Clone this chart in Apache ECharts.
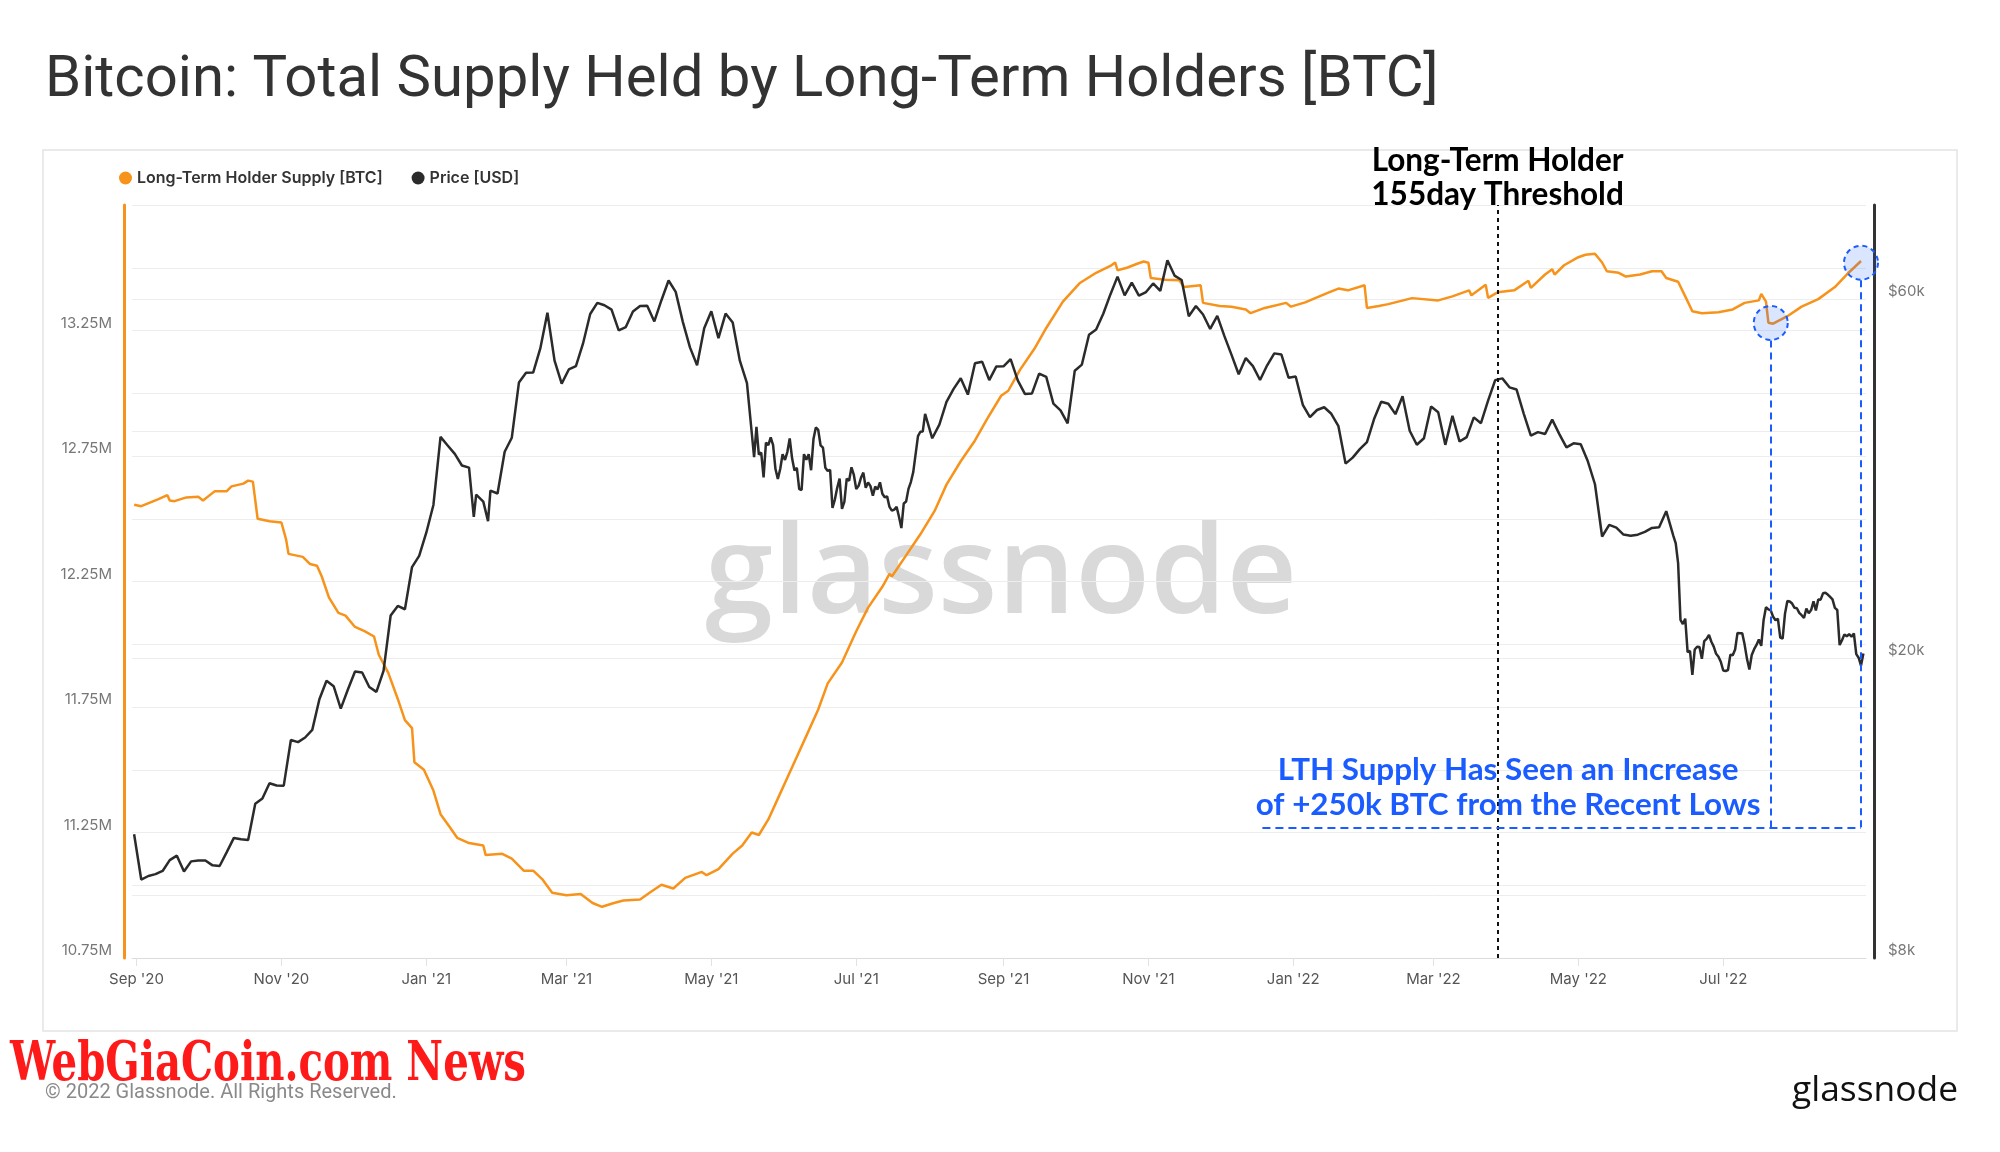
<!DOCTYPE html>
<html><head><meta charset="utf-8">
<script src="https://cdn.jsdelivr.net/npm/echarts@6/dist/echarts.min.js"></script>
<style>html,body{margin:0;padding:0;background:#fff;}#c{width:2000px;height:1152px;}</style>
</head><body><div id="c"></div>
<script>
// ---------------- data ----------------
const TITLE = 'Bitcoin: Total Supply Held by Long-Term Holders [BTC]';
const LTH_NAME = 'Long-Term Holder Supply [BTC]';
const PRICE_NAME = 'Price [USD]';

// Long-Term Holder supply, millions of BTC: [date, value]
const lthPoints = [
['2020-08-31',12.556],['2020-09-03',12.55],['2020-09-10',12.577],['2020-09-14',12.594],['2020-09-15',12.573],['2020-09-17',12.57],['2020-09-22',12.585],['2020-09-27',12.588],['2020-09-29',12.573],['2020-10-04',12.61],['2020-10-09',12.61],['2020-10-11',12.629],['2020-10-16',12.64],['2020-10-18',12.652],['2020-10-20',12.648],['2020-10-22',12.50],['2020-10-27',12.49],['2020-11-01',12.485],['2020-11-03',12.417],['2020-11-04',12.36],['2020-11-10',12.348],['2020-11-13',12.32],['2020-11-16',12.313],['2020-11-18',12.27],['2020-11-21',12.187],['2020-11-25',12.125],['2020-11-28',12.114],['2020-12-02',12.069],['2020-12-06',12.052],['2020-12-10',12.031],['2020-12-12',11.958],['2020-12-16',11.886],['2020-12-20',11.782],['2020-12-23',11.698],['2020-12-26',11.666],['2020-12-27',11.53],['2020-12-31',11.50],
['2021-01-04',11.417],['2021-01-07',11.323],['2021-01-11',11.27],['2021-01-14',11.229],['2021-01-19',11.208],['2021-01-25',11.198],['2021-01-26',11.16],['2021-02-02',11.165],['2021-02-06',11.146],['2021-02-11',11.098],['2021-02-15',11.098],['2021-02-19',11.062],['2021-02-23',11.01],['2021-03-01',11.0],['2021-03-07',11.005],['2021-03-12',10.969],['2021-03-16',10.954],['2021-03-21',10.969],['2021-03-25',10.979],['2021-04-01',10.983],['2021-04-05',11.01],['2021-04-10',11.042],['2021-04-15',11.027],['2021-04-20',11.069],['2021-04-27',11.093],['2021-04-29',11.08],['2021-05-04',11.104],['2021-05-10',11.166],['2021-05-14',11.198],['2021-05-18',11.25],['2021-05-21',11.24],['2021-05-25',11.302],['2021-05-29',11.385],['2021-06-04',11.51],['2021-06-10',11.635],['2021-06-15',11.74],['2021-06-19',11.844],['2021-06-25',11.927],['2021-07-01',12.052],['2021-07-06',12.146],['2021-07-12',12.229],['2021-07-15',12.28],['2021-07-16',12.27],['2021-07-22',12.354],['2021-07-28',12.438],['2021-08-03',12.531],['2021-08-08',12.636],['2021-08-14',12.729],['2021-08-20',12.812],['2021-08-25',12.896],['2021-08-31',12.99],['2021-09-03',13.01],['2021-09-08',13.094],['2021-09-14',13.177],['2021-09-19',13.26],['2021-09-26',13.365],['2021-10-03',13.438],['2021-10-10',13.48],['2021-10-16',13.507],['2021-10-18',13.521],['2021-10-19',13.49],['2021-10-23',13.50],['2021-10-27',13.515],['2021-10-30',13.525],['2021-11-01',13.52],['2021-11-02',13.459],['2021-11-08',13.452],['2021-11-14',13.45],['2021-11-16',13.423],['2021-11-23',13.43],['2021-11-24',13.36],['2021-12-01',13.348],['2021-12-06',13.345],['2021-12-12',13.334],['2021-12-14',13.319],['2021-12-20',13.34],['2021-12-29',13.36],['2021-12-31',13.345],
['2022-01-06',13.362],['2022-01-16',13.402],['2022-01-20',13.417],['2022-01-24',13.41],['2022-01-31',13.43],['2022-02-01',13.34],['2022-02-06',13.348],['2022-02-10',13.355],['2022-02-20',13.379],['2022-03-03',13.37],['2022-03-09',13.386],['2022-03-16',13.41],['2022-03-17',13.39],['2022-03-23',13.432],['2022-03-24',13.38],['2022-03-28',13.402],['2022-04-04',13.41],['2022-04-10',13.448],['2022-04-11',13.42],['2022-04-17',13.473],['2022-04-20',13.494],['2022-04-21',13.473],['2022-04-25',13.51],['2022-05-01',13.542],['2022-05-04',13.552],['2022-05-08',13.556],['2022-05-11',13.521],['2022-05-13',13.486],['2022-05-18',13.48],['2022-05-21',13.465],['2022-05-27',13.473],['2022-06-01',13.486],['2022-06-05',13.486],['2022-06-07',13.459],['2022-06-12',13.444],['2022-06-15',13.386],['2022-06-18',13.327],['2022-06-22',13.319],['2022-06-29',13.323],['2022-07-05',13.334],['2022-07-10',13.36],['2022-07-16',13.37],['2022-07-17',13.396],['2022-07-19',13.365],['2022-07-20',13.281],['2022-07-22',13.277],['2022-07-28',13.307],['2022-08-03',13.345],['2022-08-10',13.375],['2022-08-17',13.423],['2022-08-22',13.473],['2022-08-28',13.527]
];

// BTC price, USD: [date, value]
const pricePoints = [
['2020-08-31',11680],['2020-09-03',10170],['2020-09-06',10280],['2020-09-09',10340],['2020-09-12',10440],['2020-09-15',10790],['2020-09-18',10940],['2020-09-21',10420],['2020-09-24',10750],['2020-09-27',10780],['2020-09-30',10780],['2020-10-03',10620],['2020-10-06',10600],['2020-10-09',11060],['2020-10-12',11550],['2020-10-15',11500],['2020-10-18',11480],['2020-10-21',12820],['2020-10-24',13030],['2020-10-27',13650],['2020-10-30',13560],['2020-11-02',13550],['2020-11-05',15580],['2020-11-08',15480],['2020-11-11',15700],['2020-11-14',16070],['2020-11-17',17650],['2020-11-20',18680],['2020-11-23',18370],['2020-11-26',17150],['2020-11-29',18180],['2020-12-02',19210],['2020-12-05',19150],['2020-12-08',18320],['2020-12-11',18050],['2020-12-14',19250],['2020-12-17',22800],['2020-12-20',23480],['2020-12-23',23240],['2020-12-26',26440],['2020-12-29',27360],
['2021-01-01',29370],['2021-01-04',31970],['2021-01-07',39370],['2021-01-10',38350],['2021-01-13',37370],['2021-01-16',36070],['2021-01-19',35830],['2021-01-21',30830],['2021-01-22',33000],['2021-01-25',32300],['2021-01-27',30430],['2021-01-28',33400],['2021-01-31',33110],['2021-02-03',37620],['2021-02-06',39270],['2021-02-09',46480],['2021-02-12',47910],['2021-02-15',47930],['2021-02-18',51600],['2021-02-21',57540],['2021-02-24',49710],['2021-02-27',46340],['2021-03-02',48380],['2021-03-05',48880],['2021-03-08',52380],['2021-03-11',57330],['2021-03-14',59300],['2021-03-17',58870],['2021-03-20',58100],['2021-03-23',54530],['2021-03-26',55080],['2021-03-29',57750],['2021-04-01',58760],['2021-04-04',58800],['2021-04-07',56040],['2021-04-10',59790],['2021-04-13',63500],['2021-04-16',61340],['2021-04-19',55960],['2021-04-22',51760],['2021-04-25',49000],['2021-04-28',54880],['2021-05-01',57800],['2021-05-04',53250],['2021-05-07',57400],['2021-05-10',55860],['2021-05-13',49700],['2021-05-16',46400],
['2021-05-19',37000],['2021-05-20',40600],['2021-05-21',37300],['2021-05-22',37530],['2021-05-23',34770],['2021-05-24',38700],['2021-05-25',38400],['2021-05-26',39300],['2021-05-27',38400],['2021-05-28',35680],['2021-05-29',34620],['2021-05-30',35680],['2021-05-31',37340],['2021-06-01',36690],['2021-06-02',37580],['2021-06-03',39190],['2021-06-04',36870],['2021-06-05',35520],['2021-06-06',35800],['2021-06-07',33560],['2021-06-08',33470],['2021-06-09',37340],['2021-06-10',36700],['2021-06-11',37330],['2021-06-12',35550],['2021-06-13',39100],['2021-06-14',40520],['2021-06-15',40220],['2021-06-16',38350],['2021-06-17',38090],['2021-06-18',35820],['2021-06-19',35480],['2021-06-20',35600],['2021-06-21',31680],['2021-06-22',32500],['2021-06-23',33690],['2021-06-24',34660],['2021-06-25',31590],['2021-06-26',32280],['2021-06-27',34650],['2021-06-28',34430],['2021-06-29',35870],['2021-06-30',35040],['2021-07-01',33570],['2021-07-02',33900],['2021-07-03',34740],['2021-07-04',35290],['2021-07-05',33690],['2021-07-06',34240],['2021-07-07',33860],['2021-07-08',32880],['2021-07-09',33810],['2021-07-10',33520],['2021-07-11',34260],['2021-07-12',33090],['2021-07-13',32730],['2021-07-14',32820],['2021-07-15',31780],['2021-07-16',31420],['2021-07-17',31520],['2021-07-18',31780],['2021-07-19',30840],['2021-07-20',29790],['2021-07-21',32110],['2021-07-22',32310],['2021-07-23',33580],['2021-07-24',34290],['2021-07-25',35350],['2021-07-26',37340],['2021-07-27',39470],['2021-07-28',39990],['2021-07-29',40010],['2021-07-30',42240],
['2021-08-02',39200],['2021-08-05',40870],['2021-08-08',43830],['2021-08-11',45590],['2021-08-14',47100],['2021-08-17',44800],['2021-08-20',49320],['2021-08-23',49550],['2021-08-26',46840],['2021-08-29',48830],['2021-09-01',48850],['2021-09-04',49950],['2021-09-07',46800],['2021-09-10',44900],['2021-09-13',44960],['2021-09-16',47780],['2021-09-19',47290],['2021-09-22',43580],['2021-09-25',42700],['2021-09-28',41030],['2021-10-01',48200],['2021-10-04',49110],['2021-10-07',53800],['2021-10-10',54660],['2021-10-13',57370],['2021-10-16',60860],['2021-10-19',64260],['2021-10-22',60690],['2021-10-25',63080],['2021-10-28',60620],['2021-10-31',61300],['2021-11-03',62940],['2021-11-06',61530],['2021-11-09',67550],['2021-11-12',64470],['2021-11-15',63610],['2021-11-18',56940],['2021-11-21',58740],['2021-11-24',57230],['2021-11-27',54760],['2021-11-30',57000],['2021-12-03',53570],['2021-12-06',50580],['2021-12-09',47680],['2021-12-12',50100],['2021-12-15',48880],['2021-12-18',46850],['2021-12-21',49000],['2021-12-24',50820],['2021-12-27',50640],['2021-12-30',47180],
['2022-01-02',47350],['2022-01-05',43430],['2022-01-08',41820],['2022-01-11',42740],['2022-01-14',43100],['2022-01-17',42250],['2022-01-20',40680],['2022-01-23',36280],['2022-01-26',36950],['2022-01-29',37920],['2022-02-01',38740],['2022-02-04',41570],['2022-02-07',43840],['2022-02-10',43560],['2022-02-13',42200],['2022-02-16',44580],['2022-02-19',40120],['2022-02-22',38430],['2022-02-25',39200],['2022-02-28',43190],['2022-03-03',42450],['2022-03-06',38420],['2022-03-09',41980],['2022-03-12',38810],['2022-03-15',39340],['2022-03-18',41790],['2022-03-21',41050],['2022-03-24',43990],['2022-03-27',46830],['2022-03-30',47080],['2022-04-02',45810],['2022-04-05',45500],['2022-04-08',42280],['2022-04-11',39520],['2022-04-14',39950],['2022-04-17',39720],['2022-04-20',41500],['2022-04-23',39700],['2022-04-26',38120],['2022-04-29',38600],['2022-05-02',38480],['2022-05-05',36540],['2022-05-08',34060],['2022-05-11',29030],['2022-05-14',30080],['2022-05-17',29830],['2022-05-20',29200],['2022-05-23',29100],['2022-05-26',29190],['2022-05-29',29440],['2022-06-01',29800],['2022-06-04',29860],['2022-06-07',31370],
['2022-06-10',29090],['2022-06-11',28420],['2022-06-12',26760],['2022-06-13',22490],['2022-06-14',22210],['2022-06-15',22580],['2022-06-16',20380],['2022-06-17',20470],['2022-06-18',19020],['2022-06-19',20550],['2022-06-20',20720],['2022-06-21',20710],['2022-06-22',19970],['2022-06-23',21080],['2022-06-24',21230],['2022-06-25',21490],['2022-06-26',21040],['2022-06-27',20730],['2022-06-28',20280],['2022-06-29',20100],['2022-06-30',19780],['2022-07-01',19270],['2022-07-02',19240],['2022-07-03',19300],['2022-07-04',20230],['2022-07-05',20190],['2022-07-06',20550],['2022-07-07',21620],['2022-07-08',21590],['2022-07-09',21590],['2022-07-10',20860],['2022-07-11',19970],['2022-07-12',19330],['2022-07-13',20210],['2022-07-14',20570],['2022-07-15',20840],['2022-07-16',21190],['2022-07-17',20780],['2022-07-18',22490],['2022-07-19',23390],['2022-07-20',23230],['2022-07-21',23160],['2022-07-22',22710],['2022-07-23',22470],['2022-07-24',22580],['2022-07-25',21310],['2022-07-26',21250],['2022-07-27',22930],['2022-07-28',23840],['2022-07-29',23800],['2022-07-30',23650],['2022-07-31',23340],['2022-08-01',23310],['2022-08-02',22980],['2022-08-03',22820],['2022-08-04',22630],['2022-08-05',23290],['2022-08-06',22960],['2022-08-07',23180],['2022-08-08',23810],['2022-08-09',23160],['2022-08-10',23950],['2022-08-11',23930],['2022-08-12',24400],['2022-08-13',24440],['2022-08-14',24310],['2022-08-15',24130],['2022-08-16',23950],['2022-08-17',23340],['2022-08-18',23190],['2022-08-19',20830],['2022-08-20',21140],['2022-08-21',21520],['2022-08-22',21400],['2022-08-23',21530],['2022-08-24',21370],['2022-08-25',21580],['2022-08-26',20260],['2022-08-27',20040],['2022-08-28',19560],['2022-08-29',20300]
];

// axis ticks
const lthLabelValues = [10.75, 11.25, 11.75, 12.25, 12.75, 13.25];
const priceGridValues = [10000, 20000, 40000, 60000];
const priceLabelValues = [8000, 20000, 60000];

// annotations
const thresholdDate = '2022-03-28';
const thresholdLines = ['Long-Term Holder', '155day Threshold'];
const lowPoint = ['2022-07-21', 13.28];
const lastPoint = ['2022-08-28', 13.52];
const boxLeftDate = '2021-12-19';
const boxBottomValue = 11.27;
const lowCircleBottom = 13.21;
const lastCircleBottom = 13.45;
const noteLines = ['LTH Supply Has Seen an Increase', 'of +250k BTC from the Recent Lows'];
const notePoint = ['2022-04-01 10:00:00', 11.43];

// ---------------- chart ----------------
const MONTHS = ['Jan','Feb','Mar','Apr','May','Jun','Jul','Aug','Sep','Oct','Nov','Dec'];
function fmtMonth(v){ const d = new Date(v); return MONTHS[d.getMonth()] + " '" + String(d.getFullYear()).slice(2); }
function measure(font, text){ const ctx = document.createElement('canvas').getContext('2d'); ctx.font = font; return ctx.measureText(text).width; }

const titleSize = 58 * 1394 / measure('400 58px Roboto', TITLE);
const brandText = 'WebGiaCoin.com News';
const brandScale = 516 / measure('bold 54px "DejaVu Serif Condensed"', brandText);
const wmSize = 124 * 592 / measure('600 124px "Open Sans"', 'glassnode');
const logoSize = 36 * 166 / measure('500 36px "Open Sans"', 'glassnode');
const thrSize = 30 * 252 / measure('bold 30px Lato', thresholdLines[0]);
const noteSize = 30 * 461 / measure('bold 30px Lato', noteLines[0]);

const ORANGE = '#f7931a', DARK = '#2b2b2b', BLUE = '#1a5cff';
const blueDash = {color: BLUE, width: 2, type: [7, 5]};

const chart = echarts.init(document.getElementById('c'), null, {renderer: 'canvas'});
chart.setOption({
  animation: false,
  backgroundColor: '#fff',
  textStyle: {fontFamily: 'Inter'},
  grid: {left: 132, right: 134, top: 205, bottom: 194, containLabel: false},
  legend: {
    left: 114, top: 165, icon: 'circle', itemWidth: 13, itemHeight: 13, itemGap: 29,
    textStyle: {fontFamily: 'Inter', fontSize: 16, fontWeight: 600, color: '#333'},
    data: [LTH_NAME, PRICE_NAME]
  },
  xAxis: {
    type: 'time',
    min: new Date(2020, 7, 30, 2, 40).getTime(),
    max: new Date(2022, 7, 30, 2, 24).getTime(),
    splitNumber: 12,
    axisLine: {show: true, lineStyle: {color: '#dcdcdc', width: 1}},
    axisTick: {show: true, length: 8, lineStyle: {color: '#e2e2e2'}},
    axisLabel: {formatter: fmtMonth, color: '#555', fontSize: 15, margin: 14, fontFamily: 'Inter', hideOverlap: false},
    splitLine: {show: false}
  },
  yAxis: [{
    type: 'value', position: 'left', offset: 8,
    min: 10.75, max: 13.75, interval: 0.25,
    axisLine: {show: true, lineStyle: {color: ORANGE, width: 3}},
    axisTick: {show: false},
    axisLabel: {customValues: lthLabelValues, formatter: v => v.toFixed(2) + 'M', color: '#777', fontSize: 15, margin: 12, verticalAlign: 'bottom', fontFamily: 'Inter'},
    splitLine: {show: true, lineStyle: {color: '#ededed', width: 1}}
  }, {
    type: 'log', logBase: 10, position: 'right', offset: 8,
    min: 8000, max: 80000,
    axisLine: {show: true, lineStyle: {color: '#333', width: 3}},
    axisTick: {show: false, customValues: priceGridValues},
    axisLabel: {customValues: priceLabelValues, formatter: v => '$' + Math.round(v / 1000) + 'k', color: '#777', fontSize: 15, margin: 14, verticalAlign: 'bottom', fontFamily: 'Inter'},
    splitLine: {show: true, lineStyle: {color: '#ededed', width: 1}}
  }],
  series: [{
    name: LTH_NAME, type: 'line', yAxisIndex: 0, data: lthPoints,
    symbol: 'none', lineStyle: {color: ORANGE, width: 2.5}, itemStyle: {color: ORANGE}, z: 3,
    markLine: {
      silent: true, symbol: ['none', 'none'], label: {show: false},
      data: [
        [{coord: [thresholdDate, 10.75], lineStyle: {color: '#111', width: 2, type: [4, 4]}},
         {coord: [thresholdDate, 13.75], label: {show: true, position: 'end', formatter: thresholdLines.join('\n'), color: '#000', fontSize: thrSize, fontWeight: 'bold', fontFamily: 'Lato', lineHeight: 34, distance: -7}}],
        [{coord: [lowPoint[0], lowCircleBottom], lineStyle: blueDash}, {coord: [lowPoint[0], boxBottomValue]}],
        [{coord: [lastPoint[0], lastCircleBottom], lineStyle: blueDash}, {coord: [lastPoint[0], boxBottomValue]}],
        [{coord: [boxLeftDate, boxBottomValue], lineStyle: {color: BLUE, width: 2, type: [8, 5]}}, {coord: [lastPoint[0], boxBottomValue]}]
      ]
    },
    markPoint: {
      silent: true, label: {show: false},
      data: [
        {coord: lowPoint, symbol: 'circle', symbolSize: 34, itemStyle: {color: 'rgba(26,92,255,0.16)', borderColor: BLUE, borderWidth: 2, borderType: [5, 4]}},
        {coord: lastPoint, symbol: 'circle', symbolSize: 34, itemStyle: {color: 'rgba(26,92,255,0.16)', borderColor: BLUE, borderWidth: 2, borderType: [5, 4]}},
        {coord: notePoint, symbol: 'circle', symbolSize: 0, itemStyle: {color: 'rgba(0,0,0,0)', borderWidth: 0},
         label: {show: true, position: 'inside', formatter: noteLines.join('\n'), color: BLUE, fontSize: noteSize, fontWeight: 'bold', fontFamily: 'Lato', lineHeight: 35, align: 'center'}}
      ]
    }
  }, {
    name: PRICE_NAME, type: 'line', yAxisIndex: 1, data: pricePoints,
    symbol: 'none', lineStyle: {color: DARK, width: 2.5}, itemStyle: {color: DARK}, z: 4
  }],
  graphic: {elements: [
    {type: 'rect', silent: true, z: -10, shape: {x: 43, y: 150, width: 1914, height: 881}, style: {fill: 'none', stroke: '#e4e4e4', lineWidth: 1.5}},
    {type: 'text', silent: true, x: 45, y: 81, style: {text: TITLE, fontFamily: 'Roboto', fontSize: titleSize, fill: '#333', align: 'left', verticalAlign: 'middle'}},
    {type: 'text', silent: true, z: 0, x: 1001, y: 578, style: {text: 'glassnode', fontFamily: 'Open Sans', fontWeight: 600, fontSize: wmSize, fill: '#d9d9d9', align: 'center', verticalAlign: 'middle'}},
    {type: 'text', silent: true, x: 10, y: 1066, scaleX: brandScale, style: {text: brandText, fontFamily: 'DejaVu Serif Condensed', fontWeight: 'bold', fontSize: 54, fill: '#ff1a1a', align: 'left', verticalAlign: 'middle'}},
    {type: 'text', silent: true, x: 45, y: 1093, style: {text: '\u00A9 2022 Glassnode. All Rights Reserved.', fontFamily: 'Roboto', fontSize: 20, fill: '#8a8a8a', align: 'left', verticalAlign: 'middle'}},
    {type: 'text', silent: true, x: 1958, y: 1091, style: {text: 'glassnode', fontFamily: 'Open Sans', fontWeight: 500, fontSize: logoSize, fill: '#111', align: 'right', verticalAlign: 'middle'}}
  ]}
});
</script>
</body></html>
